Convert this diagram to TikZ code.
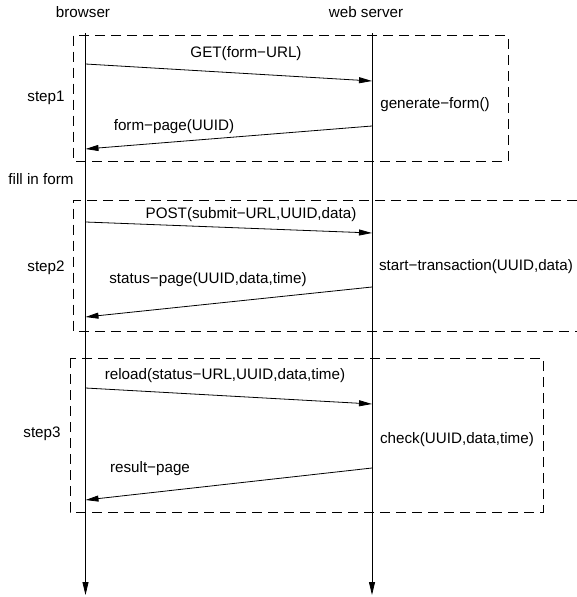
\documentclass[tikz,border=0pt]{standalone}
\usepackage{fontspec}
\setmainfont{Liberation Sans}
\usetikzlibrary{arrows.meta}
\begin{document}
\begin{tikzpicture}[x=1pt,y=-1pt,
  lbl/.style={inner sep=0pt,font=\fontsize{15.2}{17}\selectfont},
  life/.style={line width=0.8pt,-{Triangle[length=13pt,width=6pt]}},
  msg/.style={line width=0.8pt,-{Triangle[length=13pt,width=6pt]}},
  frame/.style={line width=0.8pt,dash pattern=on 10pt off 6pt}]
\useasboundingbox (0,0) rectangle (577,597);
% titles
\node[lbl] (tb) at (83,12) {browser};
\node[lbl] (ts) at (366,12) {web server};
% lifelines
\coordinate (bT) at (85.5,33);
\coordinate (bB) at (85.5,595);
\coordinate (sT) at (372,33);
\coordinate (sB) at (372,595);
\draw[life] (bT) -- (bB);
\draw[life] (sT) -- (sB);
% frames
\draw[frame] (73.6,35.7) rectangle (508,161);
\draw[frame] (577,200) -- (73.6,200) -- (73.6,331) -- (577,331);
\draw[frame] (70,358) rectangle (543,512);
% step labels
\node[lbl] (s1) at (46,98) {step1};
\node[lbl] (fill) at (41,179) {fill in form};
\node[lbl] (s2) at (46,268) {step2};
\node[lbl] (s3) at (42,434) {step3};
% step 1
\coordinate (b1) at (85.5,64);
\coordinate (s1a) at (372,81);
\draw[msg] (b1) -- (s1a);
\node[lbl] (m1) at (246,54) {GET(form−URL)};
\node[lbl] (p1) at (435,105) {generate−form()};
\coordinate (s1b) at (372,126);
\coordinate (b1b) at (85.5,149);
\draw[msg] (s1b) -- (b1b);
\node[lbl] (m2) at (174,127) {form−page(UUID)};
% step 2
\coordinate (b2) at (85.5,222);
\coordinate (s2a) at (372,233);
\draw[msg] (b2) -- (s2a);
\node[lbl] (m3) at (251,215) {POST(submit−URL,UUID,data)};
\node[lbl] (p2) at (476,267) {start−transaction(UUID,data)};
\coordinate (s2b) at (372,287);
\coordinate (b2b) at (85.5,317);
\draw[msg] (s2b) -- (b2b);
\node[lbl] (m4) at (208,280) {status−page(UUID,data,time)};
% step 3
\coordinate (b3) at (85.5,388);
\coordinate (s3a) at (372,404);
\draw[msg] (b3) -- (s3a);
\node[lbl] (m5) at (225,376) {reload(status−URL,UUID,data,time)};
\node[lbl] (p3) at (457,440) {check(UUID,data,time)};
\coordinate (s3b) at (372,468);
\coordinate (b3b) at (85.5,500);
\draw[msg] (s3b) -- (b3b);
\node[lbl] (m6) at (150,469) {result−page};
\end{tikzpicture}
\end{document}
